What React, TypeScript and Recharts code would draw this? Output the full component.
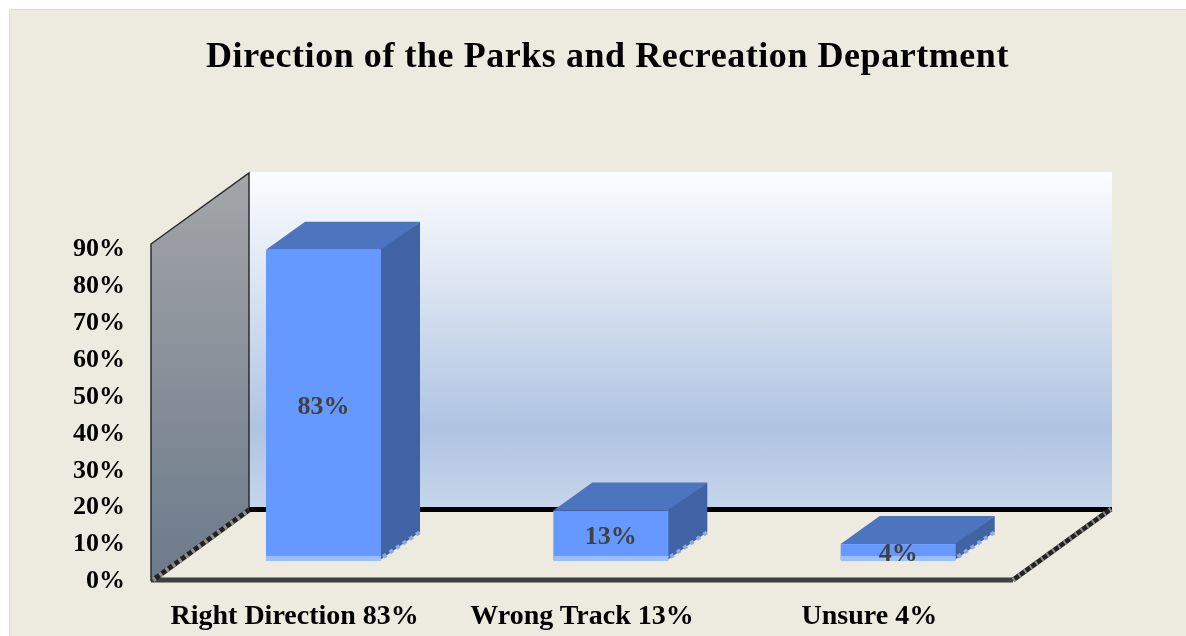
import React from "react";
import { ComposedChart, Bar, XAxis, YAxis, Customized, LabelList } from "recharts";

const TITLE = "Direction of the Parks and Recreation Department";
const categories = ["Right Direction 83%", "Wrong Track 13%", "Unsure 4%"];
const shares = [83, 13, 4];
const yTicks = [0, 10, 20, 30, 40, 50, 60, 70, 80, 90];
const rows = categories.map((name, i) => ({ name, share: shares[i] }));

const FONT = "'Liberation Serif', serif";
const W = 1186, H = 636;
const PLOT = { left: 151, right: 1013, top: 248, bottom: 580 };
const DEPTH = { x: 39, y: 28 };
const SHIFT_X = 29;
const BASE_Y = 560;

const frontTop = (height: number) => BASE_Y - height * 1.01 - 1;

function Room() {
  return (
    <g>
      <defs>
        <linearGradient id="wall" x1="0" y1="0" x2="0" y2="1">
          <stop offset="0" stopColor="#fbfdff" />
          <stop offset="0.25" stopColor="#e4ebf5" />
          <stop offset="0.76" stopColor="#afc4e2" />
          <stop offset="1" stopColor="#c6d5ea" />
        </linearGradient>
        <linearGradient id="side" x1="0" y1="0" x2="0" y2="1">
          <stop offset="0" stopColor="#a3a5a8" />
          <stop offset="1" stopColor="#6c7a8b" />
        </linearGradient>
      </defs>
      <rect x={9.5} y={9.5} width={W} height={H} fill="#edebe0" stroke="#dcdcdc" />
      <text x={607.5} y={67} textAnchor="middle" fontFamily={FONT} fontWeight="bold" fontSize={36} letterSpacing={0.55} fill="#000">
        {TITLE}
      </text>
      <rect x={249} y={172} width={863} height={336} fill="url(#wall)" />
      <line x1={249} y1={509.5} x2={1112} y2={509.5} stroke="#000" strokeWidth={5} />
      <line x1={151} y1={580} x2={1013} y2={580} stroke="#3f3f3f" strokeWidth={5} />
      <line x1={1013} y1={580} x2={1111} y2={509} stroke="#222" strokeWidth={5} />
      <line x1={1013} y1={580} x2={1111} y2={509} stroke="#8a8a86" strokeWidth={5} strokeDasharray="2 5" />
      <polygon points="151,244 249,173 249,508 151,580" fill="url(#side)" stroke="#2b2b2b" strokeWidth={1.5} />
      <line x1={153} y1={580} x2={249} y2={510} stroke="#222" strokeWidth={5} />
      <line x1={153} y1={580} x2={249} y2={510} stroke="#8f8f8b" strokeWidth={5} strokeDasharray="3 5" />
    </g>
  );
}

function Box3D(props: any) {
  const { x, width, height } = props;
  const l = x + SHIFT_X;
  const r = l + width;
  const t = frontTop(height);
  const b = BASE_Y;
  const dx = DEPTH.x, dy = DEPTH.y;
  return (
    <g>
      <polygon points={`${l},${t} ${l + dx},${t - dy} ${r + dx},${t - dy} ${r},${t}`} fill="#4d74bf" />
      <polygon points={`${r - 1},${t} ${r + dx},${t - dy} ${r + dx},${b - dy} ${r - 1},${b}`} fill="#4063a6" />
      <line x1={r + 2} y1={b - 3} x2={r + dx} y2={b - dy} stroke="#8ea9dc" strokeWidth={4} strokeDasharray="4 4" />
      <rect x={l} y={t} width={width} height={b - t} fill="#6699ff" />
      <rect x={l} y={b - 4} width={width} height={5} fill="#9dbfff" />
    </g>
  );
}

function ValueLabel(props: any) {
  const { x, width, height, value } = props;
  return (
    <text
      x={x + SHIFT_X + width / 2}
      y={(frontTop(height) + BASE_Y) / 2}
      dy="0.34em"
      textAnchor="middle"
      fontFamily={FONT}
      fontWeight="bold"
      fontSize={26}
      fill="#404040"
    >
      {value}%
    </text>
  );
}

export default function App() {
  return (
    <div style={{ position: "absolute", left: 0, top: 0, width: W, height: H, overflow: "hidden", filter: "blur(0.4px)" }}>
      <ComposedChart
        width={W}
        height={H}
        data={rows}
        margin={{ left: 0, right: W - PLOT.right, top: PLOT.top, bottom: 0 }}
      >
        <Customized component={Room} />
        <XAxis
          dataKey="name"
          height={H - PLOT.bottom}
          axisLine={false}
          tickLine={false}
          interval={0}
          tickMargin={18}
          tick={{ fontFamily: FONT, fontWeight: "bold", fontSize: 28, fill: "#000" }}
        />
        <YAxis
          width={PLOT.left}
          domain={[0, 90]}
          ticks={yTicks}
          interval={0}
          axisLine={false}
          tickLine={false}
          tickMargin={20}
          tickFormatter={(v: number) => `${v}%`}
          tick={{ fontFamily: FONT, fontWeight: "bold", fontSize: 26, fill: "#000", dy: -1 }}
        />
        <Bar dataKey="share" barSize={115} shape={Box3D} isAnimationActive={false}>
          <LabelList dataKey="share" content={ValueLabel} />
        </Bar>
      </ComposedChart>
    </div>
  );
}
